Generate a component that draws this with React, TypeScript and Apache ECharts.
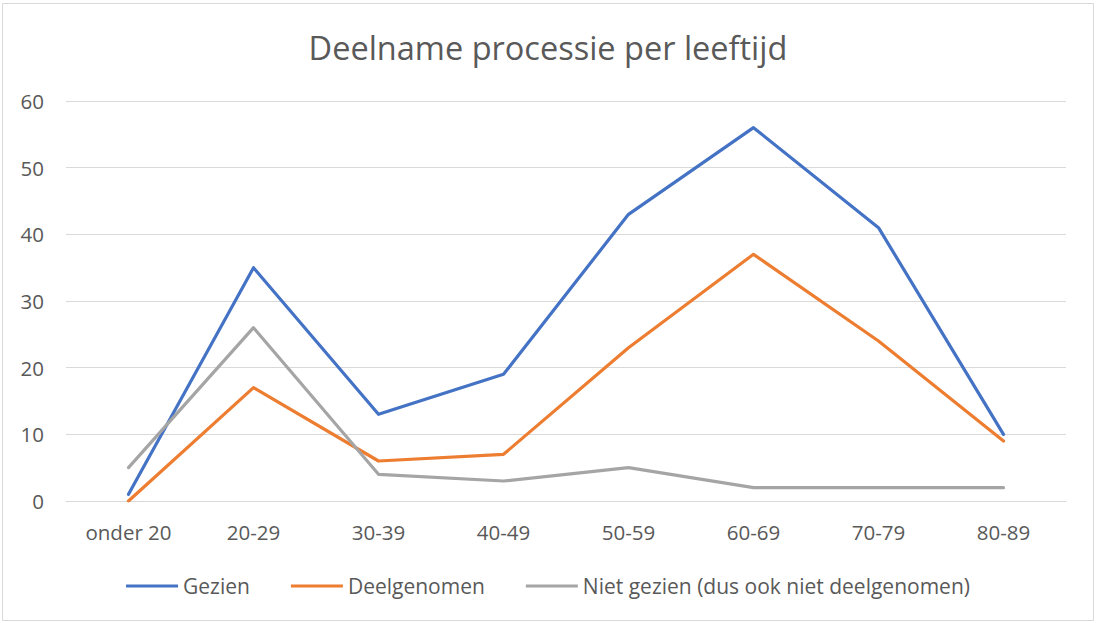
import React, { useEffect, useRef } from "react";
import * as echarts from "echarts";

const categories = ["onder 20", "20-29", "30-39", "40-49", "50-59", "60-69", "70-79", "80-89"];
const gezien = [1, 35, 13, 19, 43, 56, 41, 10];
const deelgenomen = [0, 17, 6, 7, 23, 37, 24, 9];
const nietGezien = [5, 26, 4, 3, 5, 2, 2, 2];
const seriesNames = ["Gezien", "Deelgenomen", "Niet gezien (dus ook niet deelgenomen)"];
const title = "Deelname processie per leeftijd";

const FONT = "'Open Sans', 'Noto Sans', sans-serif";
const TEXT = "#595959";

export default function App() {
  const ref = useRef<HTMLDivElement>(null);
  useEffect(() => {
    if (!ref.current) return;
    const chart = echarts.init(ref.current, null, { renderer: "svg" });
    const mk = (name: string, data: number[], color: string) => ({
      name,
      type: "line",
      data,
      showSymbol: false,
      symbol: "none",
      lineStyle: { color, width: 3.2, cap: "round", join: "round" },
      itemStyle: { color },
    });
    chart.setOption({
      animation: false,
      backgroundColor: "#ffffff",
      textStyle: { fontFamily: FONT },
      title: {
        text: title,
        left: "center",
        top: 22,
        textStyle: { fontFamily: FONT, fontSize: 32.5, fontWeight: "normal", color: TEXT, lineHeight: 40 },
      },
      graphic: [
        {
          type: "rect",
          shape: { x: 2.5, y: 3.5, width: 1091, height: 617 },
          style: { fill: "none", stroke: "#d9d9d9", lineWidth: 1 },
          silent: true,
        },
      ],
      legend: {
        top: 569,
        left: "center",
        icon: "rect",
        itemWidth: 52,
        itemHeight: 3,
        itemGap: 41,
        textStyle: { fontFamily: FONT, fontSize: 21, color: TEXT, lineHeight: 24 },
        data: seriesNames,
      },
      grid: { left: 66, right: 30, top: 101, bottom: 122, containLabel: false },
      xAxis: {
        type: "category",
        data: categories,
        boundaryGap: true,
        axisLine: { show: true, lineStyle: { color: "#d9d9d9", width: 1 } },
        axisTick: { show: false },
        axisLabel: { color: TEXT, fontSize: 20.5, fontFamily: FONT, margin: 20 },
      },
      yAxis: {
        type: "value",
        min: 0,
        max: 60,
        interval: 10,
        axisLine: { show: false },
        axisTick: { show: false },
        axisLabel: { color: TEXT, fontSize: 20.5, fontFamily: FONT, margin: 22 },
        splitLine: { lineStyle: { color: "#d9d9d9", width: 1 } },
      },
      series: [
        mk(seriesNames[0], gezien, "#4472C4"),
        mk(seriesNames[1], deelgenomen, "#ED7D31"),
        mk(seriesNames[2], nietGezien, "#A5A5A5"),
      ],
    });
    return () => chart.dispose();
  }, []);
  return (
    <div
      ref={ref}
      style={{ position: "absolute", left: 0, top: 0, width: 1096, height: 623 }}
    />
  );
}
